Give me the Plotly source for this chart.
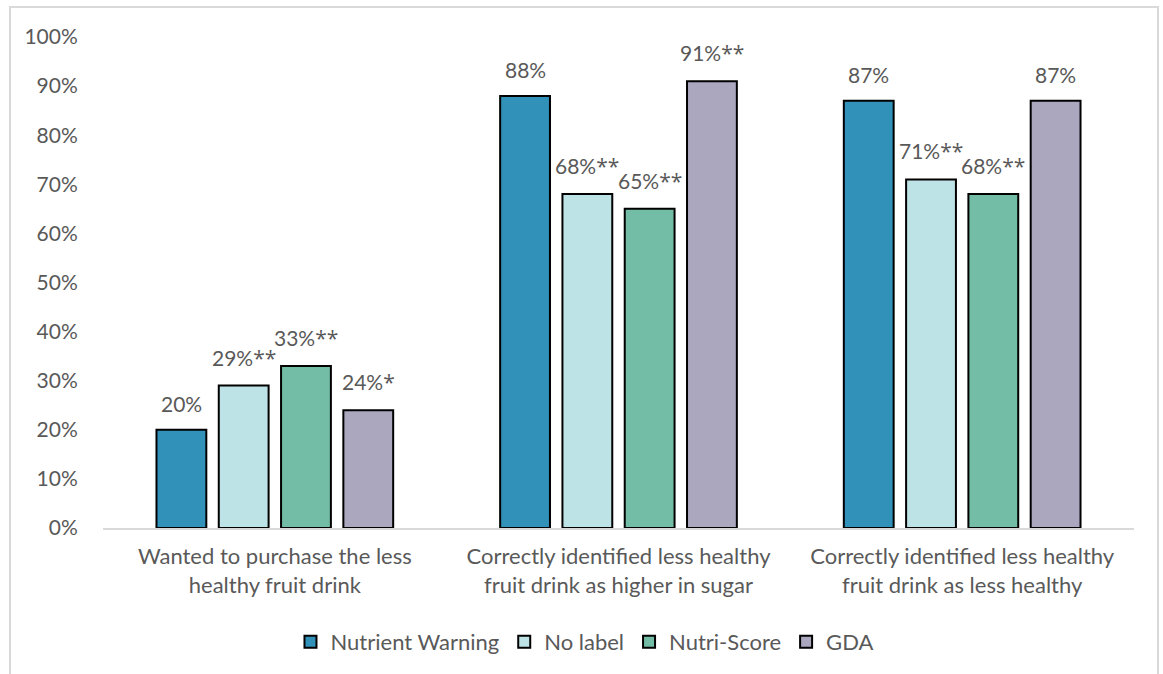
import plotly.graph_objects as go

categories = [
    "Wanted to purchase the less<br>healthy fruit drink",
    "Correctly identified less healthy<br>fruit drink as higher in sugar",
    "Correctly identified less healthy<br>fruit drink as less healthy",
]
series_names = ["Nutrient Warning", "No label", "Nutri-Score", "GDA"]
nutrient_warning = [20, 88, 87]
no_label = [29, 68, 71]
nutri_score = [33, 65, 68]
gda = [24, 91, 87]
nutrient_warning_labels = ["20%", "88%", "87%"]
no_label_labels = ["29%**", "68%**", "71%**"]
nutri_score_labels = ["33%**", "65%**", "68%**"]
gda_labels = ["24%*", "91%**", "87%"]
y_tick_vals = [0, 10, 20, 30, 40, 50, 60, 70, 80, 90, 100]
y_tick_text = ["0%", "10%", "20%", "30%", "40%", "50%", "60%", "70%", "80%", "90%", "100%"]

colors = ["#3191B8", "#BEE3E6", "#73BDA6", "#AAA7BF"]
values = [nutrient_warning, no_label, nutri_score, gda]
labels = [nutrient_warning_labels, no_label_labels, nutri_score_labels, gda_labels]

FONT = "Lato"
TXT = "#595959"

W, H = 1163, 674
L, R, T, B = 103, 29, 37, 145
pw, ph = W - L - R, H - T - B
BARGAP = 0.275
pitch = pw / len(categories) * (1 - BARGAP) / len(series_names)

def px(x):
    return (x - L) / pw

def py(y):
    return (H - B - y) / ph

def style_label(t):
    base = t.rstrip("*")
    stars = t[len(base):]
    if stars:
        return base + "<span style=\"font-family:'Open Sans';font-size:21px\">" + stars + "</span>"
    return base

fig = go.Figure()
annotations = []
n = len(series_names)
for i, (name, vals, labs, col) in enumerate(zip(series_names, values, labels, colors)):
    fig.add_trace(go.Bar(
        name=name, x=categories, y=vals,
        marker=dict(color=col, line=dict(color="#000000", width=2)),
    ))
    for c, v, t in zip(categories, vals, labs):
        annotations.append(dict(
            x=c, y=v, xref="x", yref="y", text=style_label(t), showarrow=False,
            xshift=(i - (n - 1) / 2) * pitch, yshift=12, yanchor="bottom",
            font=dict(family=FONT, size=21, color=TXT),
        ))

fig.update_layout(
    width=W, height=H,
    margin=dict(l=L, r=R, t=T, b=B),
    paper_bgcolor="white", plot_bgcolor="white",
    barmode="group", bargap=BARGAP, bargroupgap=0.2,
    font=dict(family=FONT, size=21, color=TXT),
    showlegend=True,
    legend=dict(orientation="h", x=0.467, xanchor="center", y=py(642), yanchor="middle",
                font=dict(family=FONT, size=22, color=TXT), itemwidth=30,
                traceorder="normal"),
    xaxis=dict(showline=True, linecolor="#D9D9D9", linewidth=2, ticks="outside",
               ticklen=8, tickcolor="rgba(0,0,0,0)",
               tickfont=dict(family=FONT, size=22, color=TXT), showgrid=False),
    yaxis=dict(range=[0, 100], tickvals=y_tick_vals, ticktext=y_tick_text,
               showgrid=False, zeroline=False, showline=False, ticks="outside",
               ticklen=20, tickcolor="rgba(0,0,0,0)",
               tickfont=dict(family=FONT, size=21, color=TXT)),
    annotations=annotations,
    shapes=[dict(type="rect", xref="paper", yref="paper",
                 x0=px(10), x1=px(1158), y0=py(700), y1=py(7),
                 line=dict(color="#D9D9D9", width=2), fillcolor="rgba(0,0,0,0)",
                 layer="below")],
)

fig.write_html("out.html")
